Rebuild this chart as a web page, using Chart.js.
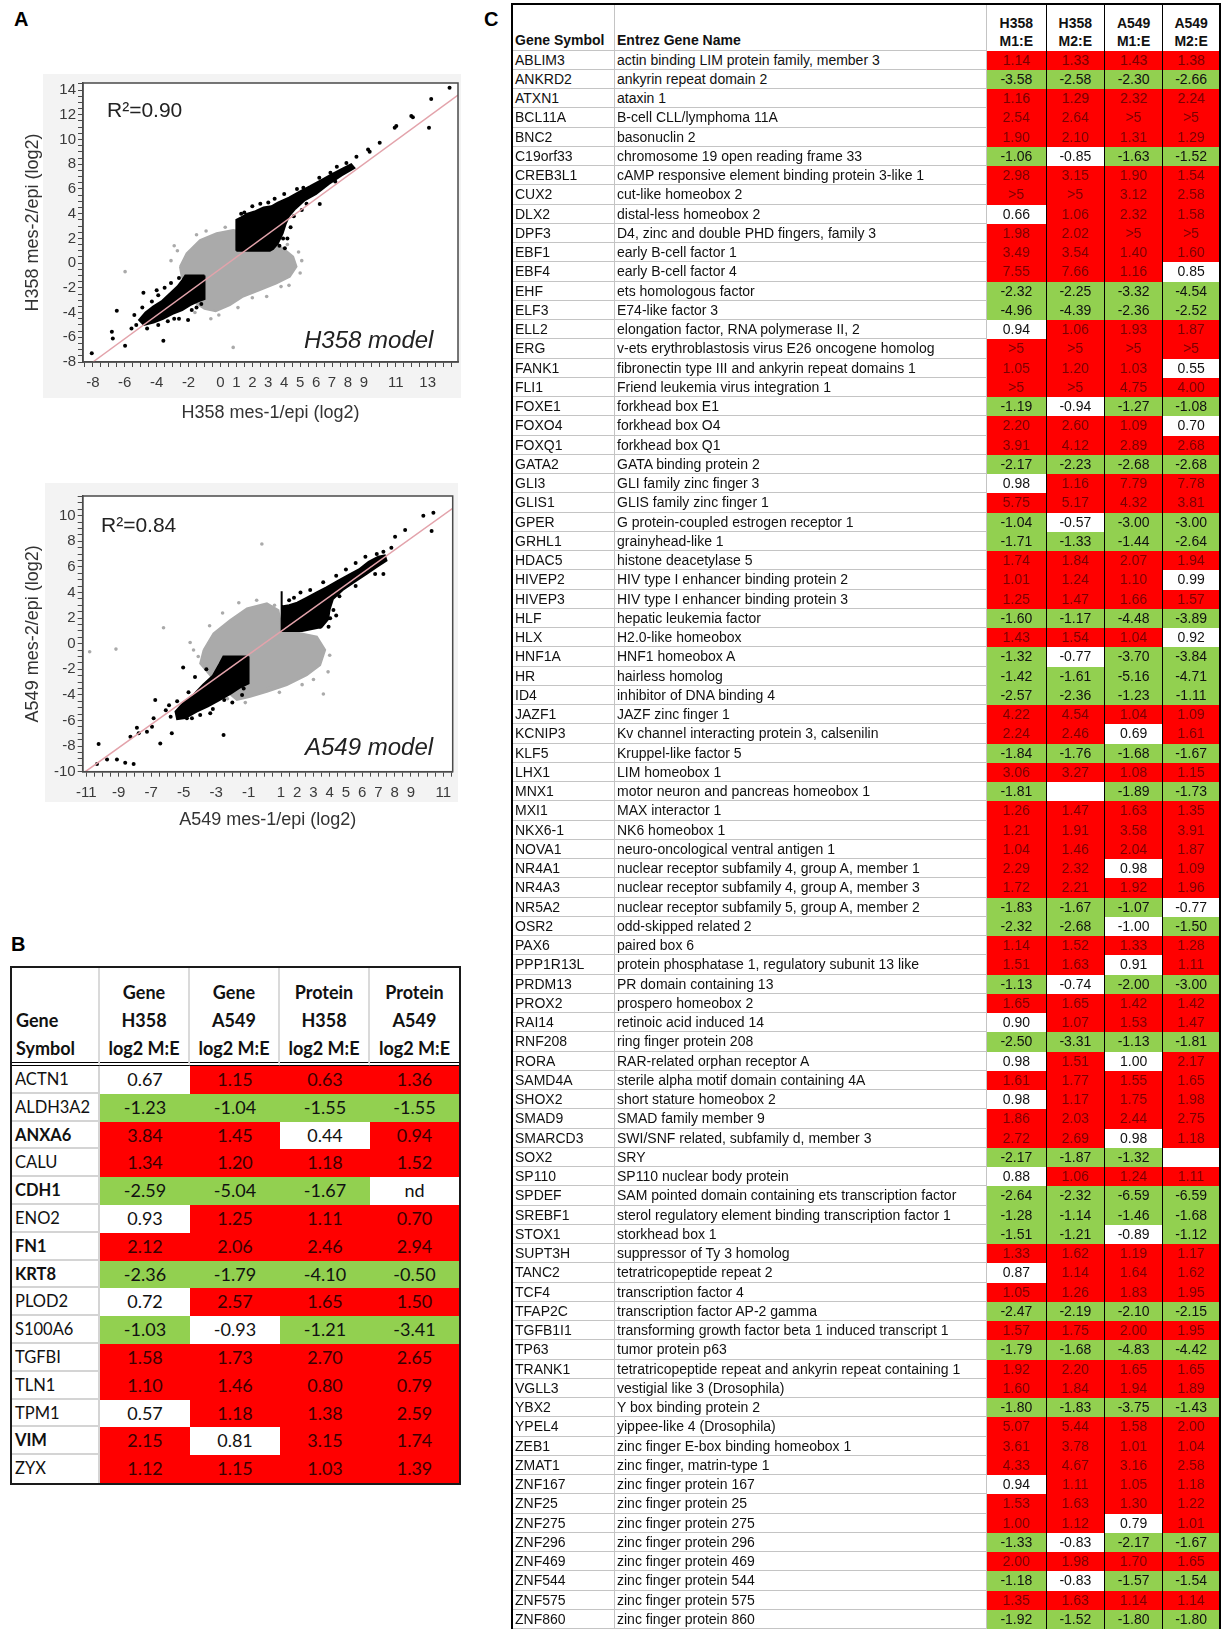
<!DOCTYPE html>
<html>
<head>
<meta charset="utf-8">
<title>EMT expression figure</title>
<script src="https://cdn.jsdelivr.net/npm/chart.js@4.4.1/dist/chart.umd.min.js"></script>
<style>
  html, body { margin: 0; padding: 0; background: #fff; }
  body { width: 1221px; height: 1629px; position: relative; overflow: hidden; font-family: "Liberation Sans", Arial, sans-serif; }
  .panel { position: absolute; font: bold 20px "Liberation Sans", Arial, sans-serif; color: #000; }
  .frame { position: absolute; background: #f3f3f3; }
  canvas { position: absolute; left: 0; }
  .note { position: absolute; color: #222; white-space: nowrap; font-family: "Liberation Sans", Arial, sans-serif; }

  #tableB { position: absolute; left: 10px; top: 966px; width: 451px; box-sizing: border-box;
    border: 2px solid #1a1a1a; display: grid;
    grid-template-columns: 88px 90px 90px 90px 89px; grid-template-rows: 98px repeat(15, 27.8px);
    font-family: Lato, "Open Sans", sans-serif; font-size: 18px; color: #111; }
  #tableB div { box-sizing: border-box; white-space: pre-line; overflow: hidden; }
  .bh { font-weight: 700; line-height: 28px; text-align: center; display: flex; flex-direction: column;
    justify-content: flex-end; border-bottom: 4px double #000; border-right: 2px solid #dadada; }
  .bh.first { text-align: left; padding-left: 4px; }
  .bh.lastcol { border-right: none; }
  .bg { padding-left: 3px; font-size: 16.5px; line-height: 26px; border-right: 2px solid #d4d4d4; border-bottom: 2px solid #d4d4d4; }
  .bv { text-align: center; line-height: 27.8px; }

  #tableC { position: absolute; left: 511px; top: 3px; width: 710px; box-sizing: border-box;
    border: 2px solid #000; border-bottom: none; display: grid;
    grid-template-columns: 102px 372px 59.7px 58.3px 58.3px 55.7px; grid-template-rows: 45.7px repeat(82, 19.26px);
    font-family: "Liberation Sans", Arial, sans-serif; font-size: 14px; color: #111; }
  #tableC div { box-sizing: border-box; white-space: pre-line; overflow: hidden; }
  .ch { font-weight: 700; line-height: 18px; display: flex; flex-direction: column; justify-content: flex-end; padding-bottom: 1px; }
  .ch.txt { border-right: 1px solid #c4c4c4; border-bottom: 1px solid #c4c4c4; padding-left: 2px; }
  .ch.num { text-align: center; border-right: 1px solid #000; }
  .ct { padding-left: 2px; line-height: 18.26px; border-right: 1px solid #c4c4c4; border-bottom: 1px solid #c4c4c4; white-space: nowrap; }
  .cv { text-align: center; line-height: 19.26px; border-right: 1px solid #000; }
  .lastcol { border-right: none !important; }
</style>
</head>
<body>

<div class="panel" style="left:14px; top:8px;">A</div>
<div class="panel" style="left:11px; top:933px;">B</div>
<div class="panel" style="left:484px; top:8px;">C</div>

<div class="frame" style="left:43px; top:74px; width:418px; height:324px;"></div>
<div class="frame" style="left:45px; top:483px; width:413px; height:319px;"></div>
<canvas id="h358Plot" width="480" height="390" style="top:60px;"></canvas>
<canvas id="a549Plot" width="480" height="370" style="top:470px;"></canvas>

<div class="note" style="left:107px; top:98px; font-size:21px;">R²=0.90</div>
<div class="note" style="left:304px; top:326px; font-size:24px; font-style:italic;">H358 model</div>
<div class="note" style="left:101px; top:513px; font-size:21px;">R²=0.84</div>
<div class="note" style="left:305px; top:733px; font-size:24px; font-style:italic;">A549 model</div>

<div id="tableB"></div>
<div id="tableC"></div>

<script>
// ---------- Panel A: scatter plots (values in log2 units) ----------
const h358XTickLabels = [-8, -6, -4, -2, 0, 1, 2, 3, 4, 5, 6, 7, 8, 9, 11, 13];
const h358YTickLabels = [-8, -6, -4, -2, 0, 2, 4, 6, 8, 10, 12, 14];
const a549XTickLabels = [-11, -9, -7, -5, -3, -1, 1, 2, 3, 4, 5, 6, 7, 8, 9, 11];
const a549YTickLabels = [-10, -8, -6, -4, -2, 0, 2, 4, 6, 8, 10];

// outline of the dense grey (unchanged) cloud
const h358GreyCloud = [[-2.54, -0.29], [-2.12, 0.79], [-1.28, 1.87], [-0.24, 2.41], [0.8, 2.68], [2.05, 2.41],
  [2.89, 1.87], [3.93, 1.2], [4.56, 0.52], [4.77, -0.29], [4.35, -1.1], [3.52, -1.64], [2.47, -2.18],
  [1.43, -2.7], [0.59, -3.4], [-0.3, -3.9], [-1.0, -3.7], [-1.49, -3.3], [-1.91, -2.44], [-2.43, -1.1]];
// outlines of the dense black (changed in both) clouds
const h358BlackUp = [[1, 1], [1, 3.5], [1.3, 3.7], [1.7, 4.0], [2.2, 4.2], [2.7, 4.5], [3.2, 4.6], [3.6, 4.9],
  [4.3, 5.3], [5.0, 5.8], [5.6, 6.2], [6.3, 6.7], [7.0, 7.2], [7.6, 7.6], [8.2, 8.0], [8.4, 7.7], [7.6, 7.1],
  [6.8, 6.4], [6.0, 5.6], [5.3, 5.1], [4.7, 4.4], [4.3, 3.8], [4.1, 3.2], [3.9, 2.4], [3.6, 1.6], [3.3, 1.15], [3.1, 1]];
const h358BlackDown = [[-1, -1], [-1, -2.9], [-1.4, -3.1], [-1.9, -3.4], [-2.4, -3.8], [-3.0, -4.1], [-3.6, -4.5],
  [-4.2, -4.8], [-4.8, -5.0], [-5.1, -4.6], [-4.7, -4.0], [-4.2, -3.5], [-3.7, -3.1], [-3.2, -2.5], [-2.7, -1.9],
  [-2.4, -1.4], [-2.2, -1.0]];
const h358BlackPoints = [[4.04, 1.2], [3.93, 2.0], [6.23, 4.78], [3.7, 1.4], [4.4, 2.9], [8.53, 8.61], [9.26, 9.2],
  [9.36, 9.01], [9.99, 9.74], [10.93, 10.96], [11.03, 11.09], [12.07, 11.8], [11.97, 11.9], [13.22, 13.28],
  [14.37, 14.19], [13.08, 10.96], [7.9, 8.1], [6.9, 7.3], [5.2, 6.1], [2.0, 4.6], [1.5, 4.1], [3.0, 4.9], [5.1, 4.3],
  [1.3, 4.0], [2.5, 4.8], [3.4, 5.2], [4.0, 5.6], [4.8, 6.0], [4.6, 3.8], [5.4, 4.8], [4.2, 2.0], [3.2, 1.4],
  [6.2, 6.9], [7.3, 7.8], [7.2, 6.6], [2.6, 4.3], [1.7, 3.9],
  [-4.83, -2.39], [-6.5, -3.85], [-6.81, -5.55], [-6.75, -6.1], [-5.98, -6.68], [-8.07, -7.3], [-5.58, -5.28],
  [-5.28, -5.01], [-3.58, -6.28], [-2.03, -4.6], [-4.0, -2.2], [-3.5, -2.0], [-5.4, -4.2], [-4.6, -5.3],
  [-2.6, -4.5], [-1.5, -3.6], [-3.1, -1.6], [-2.6, -1.2], [-1.6, -1.3], [-2.0, -1.2], [-1.2, -3.3], [-1.8, -3.8],
  [-2.9, -4.5], [-3.9, -5.0], [-4.3, -3.1], [-3.9, -2.6], [-4.4, -4.3], [-2.5, -3.0], [-3.3, -4.7], [-4.9, -3.6]];
const h358GreyPoints = [[-5.98, -0.69], [0.8, -6.82], [-2.9, 1.4], [-3.1, 0.2], [3.5, 2.3], [4.9, 0.9], [5.0, -0.8],
  [2.9, -2.7], [1.1, -3.6], [-0.6, -4.5], [-1.5, 2.3], [0.3, 2.9], [4.3, -1.8], [-2.7, 1.0], [-0.9, 2.6],
  [1.5, 2.9], [4.2, 1.5], [3.8, -1.9], [2.0, -2.8], [-0.1, -4.2], [-1.6, -4.0], [5.1, 0.2]];
const h358FitLine = [[-8, -8], [14.9, 13.6]];

const a549GreyCloud = [[-3.77, -0.49], [-3.16, 0.81], [-2.13, 1.85], [-1.1, 2.76], [0.13, 3.15], [0.84, 2.63],
  [1.0, 1.5], [2.18, 0.81], [3.21, 0.55], [3.72, -0.49], [3.41, -1.67], [2.59, -2.45], [1.36, -3.23],
  [0.13, -3.75], [-0.9, -4.14], [-1.72, -4.4], [-2.95, -3.1], [-3.98, -1.54]];
const a549BlackUp = [[1, 1], [1, 4.1], [1.06, 4.1], [1.06, 2.9], [1.5, 3.0], [2.0, 3.2], [2.6, 3.6], [3.2, 4.0],
  [3.8, 4.4], [4.5, 4.9], [5.2, 5.4], [5.8, 5.8], [6.4, 6.4], [7.0, 6.8], [7.4, 6.9], [7.5, 6.5], [6.9, 6.0],
  [6.2, 5.4], [5.5, 4.8], [4.8, 4.2], [4.2, 3.5], [4.0, 2.7], [3.9, 1.9], [3.5, 1.3], [2.3, 1.0]];
const a549BlackDown = [[-1, -1], [-1, -3.1], [-1.5, -3.4], [-2.1, -3.9], [-2.8, -4.4], [-3.5, -4.9], [-4.2, -5.3],
  [-4.9, -5.8], [-5.4, -5.9], [-5.5, -5.3], [-5.0, -4.6], [-4.4, -4.0], [-3.8, -3.2], [-3.2, -2.5], [-2.8, -1.6],
  [-2.55, -1.0]];
const a549BlackPoints = [[4.23, 2.63], [4.03, 1.98], [3.93, 1.33], [3.41, 1.33], [3.1, 1.72], [6.8, 5.44],
  [7.31, 5.44], [7.31, 7.19], [8.03, 8.36], [8.65, 8.88], [9.77, 10.0], [10.39, 10.23], [10.28, 8.8], [7.8, 7.5],
  [6.9, 7.0], [2.2, 4.0], [4.4, 5.3], [5.6, 6.3], [1.5, 3.4], [2.8, 4.2], [3.6, 4.8], [5.0, 5.8], [6.2, 6.8],
  [4.6, 3.7], [5.6, 4.5], [4.4, 2.2], [2.8, 1.3], [1.8, 3.6],
  [-6.75, -4.4], [-5.03, -1.85], [-7.88, -6.56], [-7.77, -7.0], [-8.28, -7.27], [-10.24, -7.84], [-10.34, -9.4],
  [-9.72, -9.04], [-9.11, -9.04], [-8.6, -9.3], [-8.08, -9.4], [-6.44, -7.79], [-7.26, -6.88], [-6.95, -6.48],
  [-6.85, -5.83], [-5.8, -5.7], [-5.73, -7.0], [-2.54, -7.14], [-4.8, -5.83], [-4.49, -5.83], [-3.98, -5.57],
  [-3.36, -5.44], [-5.9, -4.8], [-6.1, -5.2], [-4.3, -2.6], [-3.6, -2.0], [-2.0, -4.6], [-1.4, -4.0],
  [-1.6, -1.3], [-2.2, -1.3], [-1.3, -3.5], [-2.5, -4.4], [-3.2, -5.1], [-4.7, -3.8], [-5.4, -4.5]];
const a549GreyPoints = [[-0.18, 7.79], [-6.24, 1.25], [-10.79, -0.63], [-9.17, -0.42], [3.61, -3.93], [0.21, -3.49],
  [-4.39, -0.49], [-4.6, 0.1], [-2.6, 2.4], [-1.6, 3.2], [4.0, -0.9], [3.9, -2.2], [2.3, -3.2], [-1.2, -4.6],
  [-3.4, 1.4], [-0.5, 3.4], [0.6, 3.0], [3.0, -2.8], [0.9, -3.8], [-2.3, -4.3], [-4.1, -1.0]];
const a549FitLine = [[-11.06, -10], [11.58, 10.57]];

// ---------- Panel B ----------
const bHeaders = [['Gene', 'Symbol'], ['Gene', 'H358', 'log2 M:E'], ['Gene', 'A549', 'log2 M:E'],
  ['Protein', 'H358', 'log2 M:E'], ['Protein', 'A549', 'log2 M:E']];
const bGenes = ['ACTN1', 'ALDH3A2', 'ANXA6', 'CALU', 'CDH1', 'ENO2', 'FN1', 'KRT8', 'PLOD2', 'S100A6', 'TGFBI', 'TLN1', 'TPM1', 'VIM', 'ZYX'];
const bBoldGenes = ['ANXA6', 'CDH1', 'FN1', 'KRT8', 'VIM'];
const bGeneH358 = ['0.67', '-1.23', '3.84', '1.34', '-2.59', '0.93', '2.12', '-2.36', '0.72', '-1.03', '1.58', '1.10', '0.57', '2.15', '1.12'];
const bGeneA549 = ['1.15', '-1.04', '1.45', '1.20', '-5.04', '1.25', '2.06', '-1.79', '2.57', '-0.93', '1.73', '1.46', '1.18', '0.81', '1.15'];
const bProteinH358 = ['0.63', '-1.55', '0.44', '1.18', '-1.67', '1.11', '2.46', '-4.10', '1.65', '-1.21', '2.70', '0.80', '1.38', '3.15', '1.03'];
const bProteinA549 = ['1.36', '-1.55', '0.94', '1.52', 'nd', '0.70', '2.94', '-0.50', '1.50', '-3.41', '2.65', '0.79', '2.59', '1.74', '1.39'];
// R = up (red), G = down (green), W = not changed
const bStatus = ['WRRR', 'GGGG', 'RRWR', 'RRRR', 'GGGW', 'WRRR', 'RRRR', 'GGGG', 'WRRR', 'GWGG', 'RRRR', 'RRRR', 'WRRR', 'RWRR', 'RRRR'];

// ---------- Panel C ----------
const cHeaders = [['Gene Symbol'], ['Entrez Gene Name'], ['H358', 'M1:E'], ['H358', 'M2:E'], ['A549', 'M1:E'], ['A549', 'M2:E']];
const cGenes = ['ABLIM3', 'ANKRD2', 'ATXN1', 'BCL11A', 'BNC2', 'C19orf33', 'CREB3L1', 'CUX2', 'DLX2', 'DPF3',
  'EBF1', 'EBF4', 'EHF', 'ELF3', 'ELL2', 'ERG', 'FANK1', 'FLI1', 'FOXE1', 'FOXO4',
  'FOXQ1', 'GATA2', 'GLI3', 'GLIS1', 'GPER', 'GRHL1', 'HDAC5', 'HIVEP2', 'HIVEP3', 'HLF',
  'HLX', 'HNF1A', 'HR', 'ID4', 'JAZF1', 'KCNIP3', 'KLF5', 'LHX1', 'MNX1', 'MXI1',
  'NKX6-1', 'NOVA1', 'NR4A1', 'NR4A3', 'NR5A2', 'OSR2', 'PAX6', 'PPP1R13L', 'PRDM13', 'PROX2',
  'RAI14', 'RNF208', 'RORA', 'SAMD4A', 'SHOX2', 'SMAD9', 'SMARCD3', 'SOX2', 'SP110', 'SPDEF',
  'SREBF1', 'STOX1', 'SUPT3H', 'TANC2', 'TCF4', 'TFAP2C', 'TGFB1I1', 'TP63', 'TRANK1', 'VGLL3',
  'YBX2', 'YPEL4', 'ZEB1', 'ZMAT1', 'ZNF167', 'ZNF25', 'ZNF275', 'ZNF296', 'ZNF469', 'ZNF544', 'ZNF575', 'ZNF860'];
const cNames = ['actin binding LIM protein family, member 3', 'ankyrin repeat domain 2', 'ataxin 1',
  'B-cell CLL/lymphoma 11A', 'basonuclin 2', 'chromosome 19 open reading frame 33',
  'cAMP responsive element binding protein 3-like 1', 'cut-like homeobox 2', 'distal-less homeobox 2',
  'D4, zinc and double PHD fingers, family 3', 'early B-cell factor 1', 'early B-cell factor 4',
  'ets homologous factor', 'E74-like factor 3', 'elongation factor, RNA polymerase II, 2',
  'v-ets erythroblastosis virus E26 oncogene homolog', 'fibronectin type III and ankyrin repeat domains 1',
  'Friend leukemia virus integration 1', 'forkhead box E1', 'forkhead box O4', 'forkhead box Q1',
  'GATA binding protein 2', 'GLI family zinc finger 3', 'GLIS family zinc finger 1',
  'G protein-coupled estrogen receptor 1', 'grainyhead-like 1', 'histone deacetylase 5',
  'HIV type I enhancer binding protein 2', 'HIV type I enhancer binding protein 3', 'hepatic leukemia factor',
  'H2.0-like homeobox', 'HNF1 homeobox A', 'hairless homolog', 'inhibitor of DNA binding 4', 'JAZF zinc finger 1',
  'Kv channel interacting protein 3, calsenilin', 'Kruppel-like factor 5', 'LIM homeobox 1',
  'motor neuron and pancreas homeobox 1', 'MAX interactor 1', 'NK6 homeobox 1', 'neuro-oncological ventral antigen 1',
  'nuclear receptor subfamily 4, group A, member 1', 'nuclear receptor subfamily 4, group A, member 3',
  'nuclear receptor subfamily 5, group A, member 2', 'odd-skipped related 2', 'paired box 6',
  'protein phosphatase 1, regulatory subunit 13 like', 'PR domain containing 13', 'prospero homeobox 2',
  'retinoic acid induced 14', 'ring finger protein 208', 'RAR-related orphan receptor A',
  'sterile alpha motif domain containing 4A', 'short stature homeobox 2', 'SMAD family member 9',
  'SWI/SNF related, subfamily d, member 3', 'SRY', 'SP110 nuclear body protein',
  'SAM pointed domain containing ets transcription factor', 'sterol regulatory element binding transcription factor 1',
  'storkhead box 1', 'suppressor of Ty 3 homolog', 'tetratricopeptide repeat 2', 'transcription factor 4',
  'transcription factor AP-2 gamma', 'transforming growth factor beta 1 induced transcript 1', 'tumor protein p63',
  'tetratricopeptide repeat and ankyrin repeat containing 1', 'vestigial like 3 (Drosophila)', 'Y box binding protein 2',
  'yippee-like 4 (Drosophila)', 'zinc finger E-box binding homeobox 1', 'zinc finger, matrin-type 1',
  'zinc finger protein 167', 'zinc finger protein 25', 'zinc finger protein 275', 'zinc finger protein 296',
  'zinc finger protein 469', 'zinc finger protein 544', 'zinc finger protein 575', 'zinc finger protein 860'];
const cH358M1 = ['1.14', '-3.58', '1.16', '2.54', '1.90', '-1.06', '2.98', '>5', '0.66', '1.98',
  '3.49', '7.55', '-2.32', '-4.96', '0.94', '>5', '1.05', '>5', '-1.19', '2.20',
  '3.91', '-2.17', '0.98', '5.75', '-1.04', '-1.71', '1.74', '1.01', '1.25', '-1.60',
  '1.43', '-1.32', '-1.42', '-2.57', '4.22', '2.24', '-1.84', '3.06', '-1.81', '1.26',
  '1.21', '1.04', '2.29', '1.72', '-1.83', '-2.32', '1.14', '1.51', '-1.13', '1.65',
  '0.90', '-2.50', '0.98', '1.61', '0.98', '1.86', '2.72', '-2.17', '0.88', '-2.64',
  '-1.28', '-1.51', '1.33', '0.87', '1.05', '-2.47', '1.57', '-1.79', '1.92', '1.60',
  '-1.80', '5.07', '3.61', '4.33', '0.94', '1.53', '1.00', '-1.33', '2.00', '-1.18', '1.35', '-1.92'];
const cH358M2 = ['1.33', '-2.58', '1.29', '2.64', '2.10', '-0.85', '3.15', '>5', '1.06', '2.02',
  '3.54', '7.66', '-2.25', '-4.39', '1.06', '>5', '1.20', '>5', '-0.94', '2.60',
  '4.12', '-2.23', '1.16', '5.17', '-0.57', '-1.33', '1.84', '1.24', '1.47', '-1.17',
  '1.54', '-0.77', '-1.61', '-2.36', '4.54', '2.46', '-1.76', '3.27', '', '1.47',
  '1.91', '1.46', '2.32', '2.21', '-1.67', '-2.68', '1.52', '1.63', '-0.74', '1.65',
  '1.07', '-3.31', '1.51', '1.77', '1.17', '2.03', '2.69', '-1.87', '1.06', '-2.32',
  '-1.14', '-1.21', '1.62', '1.14', '1.26', '-2.19', '1.75', '-1.68', '2.20', '1.84',
  '-1.83', '5.44', '3.78', '4.67', '1.11', '1.63', '1.12', '-0.83', '1.98', '-0.83', '1.63', '-1.52'];
const cA549M1 = ['1.43', '-2.30', '2.32', '>5', '1.31', '-1.63', '1.90', '3.12', '2.32', '>5',
  '1.40', '1.16', '-3.32', '-2.36', '1.93', '>5', '1.03', '4.75', '-1.27', '1.09',
  '2.89', '-2.68', '7.79', '4.32', '-3.00', '-1.44', '2.07', '1.10', '1.66', '-4.48',
  '1.04', '-3.70', '-5.16', '-1.23', '1.04', '0.69', '-1.68', '1.08', '-1.89', '1.63',
  '3.58', '2.04', '0.98', '1.92', '-1.07', '-1.00', '1.33', '0.91', '-2.00', '1.42',
  '1.53', '-1.13', '1.00', '1.55', '1.75', '2.44', '0.98', '-1.32', '1.24', '-6.59',
  '-1.46', '-0.89', '1.19', '1.64', '1.83', '-2.10', '2.00', '-4.83', '1.65', '1.94',
  '-3.75', '1.58', '1.01', '3.16', '1.05', '1.30', '0.79', '-2.17', '1.70', '-1.57', '1.14', '-1.80'];
const cA549M2 = ['1.38', '-2.66', '2.24', '>5', '1.29', '-1.52', '1.54', '2.58', '1.58', '>5',
  '1.60', '0.85', '-4.54', '-2.52', '1.87', '>5', '0.55', '4.00', '-1.08', '0.70',
  '2.68', '-2.68', '7.78', '3.81', '-3.00', '-2.64', '1.94', '0.99', '1.57', '-3.89',
  '0.92', '-3.84', '-4.71', '-1.11', '1.09', '1.61', '-1.67', '1.15', '-1.73', '1.35',
  '3.91', '1.87', '1.09', '1.96', '-0.77', '-1.50', '1.28', '1.11', '-3.00', '1.42',
  '1.47', '-1.81', '2.17', '1.65', '1.98', '2.75', '1.18', '', '1.11', '-6.59',
  '-1.68', '-1.12', '1.17', '1.62', '1.95', '-2.15', '1.95', '-4.42', '1.65', '1.89',
  '-1.43', '2.00', '1.04', '2.58', '1.18', '1.22', '1.01', '-1.67', '1.65', '-1.54', '1.14', '-1.80'];
const cStatus = ['RRRR', 'GGGG', 'RRRR', 'RRRR', 'RRRR', 'GWGG', 'RRRR', 'RRRR', 'WRRR', 'RRRR',
  'RRRR', 'RRRW', 'GGGG', 'GGGG', 'WRRR', 'RRRR', 'RRRW', 'RRRR', 'GWGG', 'RRRW',
  'RRRR', 'GGGG', 'WRRR', 'RRRR', 'GWGG', 'GGGG', 'RRRR', 'RRRW', 'RRRR', 'GGGG',
  'RRRW', 'GWGG', 'GGGG', 'GGGG', 'RRRR', 'RRWR', 'GGGG', 'RRRR', 'GWGG', 'RRRR',
  'RRRR', 'RRRR', 'RRWR', 'RRRR', 'GGGW', 'GGWG', 'RRRR', 'RRWR', 'GWGG', 'RRRR',
  'WRRR', 'GGGG', 'WRWR', 'RRRR', 'WRRR', 'RRRR', 'RRWR', 'GGGW', 'WRRR', 'GGGG',
  'GGGG', 'GGWG', 'RRRR', 'WRRR', 'RRRR', 'GGGG', 'RRRR', 'GGGG', 'RRRR', 'RRRR',
  'GGGG', 'RRRR', 'RRRR', 'RRRR', 'WRRR', 'RRRR', 'RRWR', 'GWGG', 'RRRR', 'GWGG', 'RRRR', 'GGGG'];

// ---------- drawing ----------
const fontFamily = '"Liberation Sans", Arial, sans-serif';
const black = '#000000';
const grey = '#aaaaaa';
const fitColor = '#e3a3ab';

const plotFrame = {
  id: 'plotFrame',
  beforeDraw(chart) {
    const { ctx, chartArea: a } = chart;
    ctx.save();
    ctx.fillStyle = '#ffffff';
    ctx.fillRect(a.left, a.top, a.right - a.left, a.bottom - a.top);
    ctx.restore();
  },
  afterDraw(chart) {
    const { ctx, chartArea: a } = chart;
    ctx.save();
    ctx.strokeStyle = '#4a4a4a';
    ctx.lineWidth = 1.5;
    ctx.strokeRect(a.left, a.top, a.right - a.left, a.bottom - a.top);
    ctx.restore();
  }
};

function toXY(points) {
  return points.map(([x, y]) => ({ x, y }));
}

function cloud(points, color, order) {
  return {
    data: toXY(points.concat([points[0]])),
    showLine: true, fill: 'shape', tension: 0,
    backgroundColor: color, borderColor: color, borderWidth: 2,
    pointRadius: 0, order
  };
}

function dots(points, color, radius, order) {
  return {
    data: toXY(points), showLine: false,
    backgroundColor: color, borderColor: color, borderWidth: 0,
    pointRadius: radius, order
  };
}

function fit(points) {
  return {
    data: toXY(points), showLine: true, fill: false, tension: 0,
    borderColor: fitColor, borderWidth: 1.5, pointRadius: 0, order: 0
  };
}

function scatterAxis(position, min, max, labels, title, thickness) {
  return {
    type: 'linear',
    position,
    min,
    max,
    // small tick every half unit, label only where the original shows one
    afterBuildTicks: (scale) => {
      const ticks = [];
      for (let v = Math.ceil(scale.min * 2) / 2; v <= scale.max + 1e-9; v += 0.5) {
        ticks.push({ value: Math.round(v * 2) / 2 });
      }
      scale.ticks = ticks;
    },
    afterFit: (scale) => {
      if (position === 'bottom') {
        scale.height = thickness;
      } else {
        scale.width = thickness;
      }
    },
    ticks: {
      stepSize: 0.5,
      autoSkip: false,
      maxRotation: 0,
      minRotation: 0,
      padding: position === 'bottom' ? 7 : 2,
      color: '#3a3a3a',
      font: { family: fontFamily, size: 15 },
      callback: (value) => (labels.includes(value) ? String(value) : '')
    },
    grid: { drawOnChartArea: false, drawTicks: true, tickLength: 5, color: '#4a4a4a', lineWidth: 1 },
    border: { display: true, color: '#4a4a4a', width: 1.5 },
    title: {
      display: true, text: title, color: '#333',
      font: { family: fontFamily, size: 18 }, padding: { top: 4, bottom: 4 }
    }
  };
}

function drawScatter(id, datasets, xAxis, yAxis, padding) {
  return new Chart(document.getElementById(id), {
    type: 'scatter',
    data: { datasets },
    options: {
      responsive: false,
      animation: false,
      events: [],
      layout: { padding },
      plugins: { legend: { display: false }, tooltip: { enabled: false } },
      scales: { x: xAxis, y: yAxis }
    },
    plugins: [plotFrame]
  });
}

drawScatter('h358Plot', [
  fit(h358FitLine),
  dots(h358BlackPoints, black, 2, 1),
  cloud(h358BlackUp, black, 2),
  cloud(h358BlackDown, black, 2),
  dots(h358GreyPoints, grey, 1.8, 3),
  cloud(h358GreyCloud, grey, 4)
],
scatterAxis('bottom', -8.62, 14.9, h358XTickLabels, 'H358 mes-1/epi (log2)', 66),
scatterAxis('left', -8, 14.57, h358YTickLabels, 'H358 mes-2/epi (log2)', 65),
{ left: 18, top: 23, right: 22, bottom: 22 });

drawScatter('a549Plot', [
  fit(a549FitLine),
  dots(a549BlackPoints, black, 2, 1),
  cloud(a549BlackUp, black, 2),
  cloud(a549BlackDown, black, 2),
  dots(a549GreyPoints, grey, 1.8, 3),
  cloud(a549GreyCloud, grey, 4)
],
scatterAxis('bottom', -11.22, 11.58, a549XTickLabels, 'A549 mes-1/epi (log2)', 63),
scatterAxis('left', -10, 11.54, a549YTickLabels, 'A549 mes-2/epi (log2)', 64.7),
{ left: 18, top: 26, right: 27.3, bottom: 5.3 });

// ---------- tables ----------
function fillFor(code) {
  return code === 'R' ? '#ff0000' : code === 'G' ? '#92d050' : '#ffffff';
}

function addCell(parent, cls, text) {
  const d = document.createElement('div');
  d.className = cls;
  d.textContent = text;
  parent.appendChild(d);
  return d;
}

const tableB = document.getElementById('tableB');
bHeaders.forEach((lines, i) => {
  let cls = 'bh';
  if (i === 0) cls += ' first';
  if (i === bHeaders.length - 1) cls += ' lastcol';
  addCell(tableB, cls, lines.join('\n'));
});
const bColumns = [bGeneH358, bGeneA549, bProteinH358, bProteinA549];
bGenes.forEach((gene, r) => {
  const g = addCell(tableB, 'bg', gene);
  if (bBoldGenes.includes(gene)) g.style.fontWeight = '700';
  if (r === bGenes.length - 1) g.style.borderBottom = 'none';
  bColumns.forEach((col, c) => {
    const code = bStatus[r][c];
    const d = addCell(tableB, 'bv', col[r]);
    d.style.background = fillFor(code);
    d.style.color = code === 'R' ? '#3a0000' : '#111';
  });
});

const tableC = document.getElementById('tableC');
cHeaders.forEach((lines, i) => {
  let cls = i < 2 ? 'ch txt' : 'ch num';
  if (i === cHeaders.length - 1) cls += ' lastcol';
  addCell(tableC, cls, lines.join('\n'));
});
const cColumns = [cH358M1, cH358M2, cA549M1, cA549M2];
cGenes.forEach((gene, r) => {
  addCell(tableC, 'ct', gene);
  addCell(tableC, 'ct', cNames[r]);
  cColumns.forEach((col, c) => {
    const code = cStatus[r][c];
    const d = addCell(tableC, c === cColumns.length - 1 ? 'cv lastcol' : 'cv', col[r]);
    d.style.background = fillFor(code);
    d.style.color = code === 'R' ? '#7a0000' : '#111';
  });
});
</script>
</body>
</html>
